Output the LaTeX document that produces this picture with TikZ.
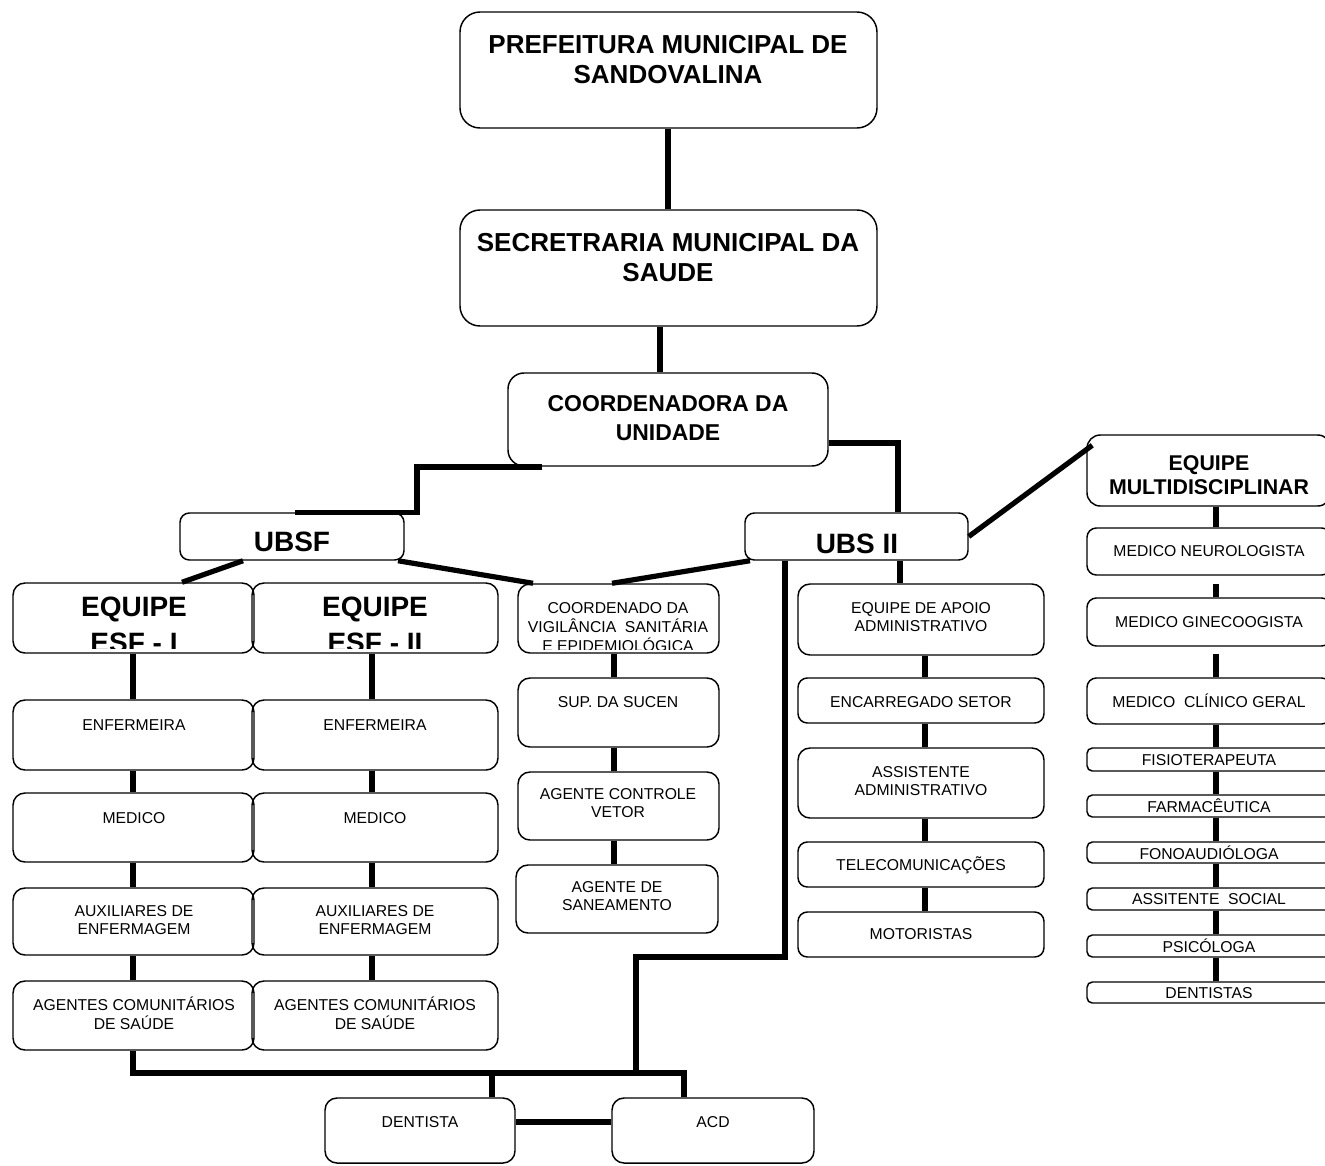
\documentclass[tikz,border=0pt]{standalone}
\usepackage{fontspec}
\setmainfont{Liberation Sans}
\usetikzlibrary{fit,calc}
\begin{document}
\begin{tikzpicture}[x=0.75pt,y=-0.75pt,
  box/.style={draw=black, line width=1.1pt, inner sep=0pt, rounded corners=#1},
  box/.default=8pt,
  conn/.style={line width=3.9pt},
  sm/.style={font=\fontsize{11.8}{14}\selectfont, align=center, inner sep=0pt},
  bg/.style={font=\bfseries\fontsize{19.5}{22.5}\selectfont, align=center, inner sep=0pt},
  cd/.style={font=\bfseries\fontsize{17.2}{21.7}\selectfont, align=center, inner sep=0pt},
  ub/.style={font=\bfseries\fontsize{21}{25}\selectfont, align=center, inner sep=0pt},
  eq/.style={font=\bfseries\fontsize{21}{27}\selectfont, align=center, inner sep=0pt},
  mu/.style={font=\bfseries\fontsize{16}{18.5}\selectfont, align=center, inner sep=0pt}]
\path[fill=white,use as bounding box] (0,0) rectangle (1325,1165);

% ---------- top ----------
\node[box=15pt, fit={(460,12) (877,128)}] (pref) {};
\node[bg] (tpref) at (668,60) {PREFEITURA MUNICIPAL DE\\SANDOVALINA};
\node[box=15pt, fit={(460,210) (877,326)}] (sec) {};
\node[bg] (tsec) at (668,258) {SECRETRARIA MUNICIPAL DA\\SAUDE};
\node[box=12pt, fit={(508,373) (828,466)}] (coord) {};
\node[cd] (tcoord) at (668,418) {COORDENADORA DA\\UNIDADE};

% ---------- units ----------
\node[box=7pt, fit={(180,513) (404,560)}] (ubsf) {};
\node[ub] (tubsf) at (292,542) {UBSF};
\node[box=7pt, fit={(745,513) (968,560)}] (ubs2) {};
\node[ub] (tubs2) at (857,544) {UBS II};
\node[box=10pt, fit={(1087,435) (1331,506)}] (multi) {};
\node[mu] (tmulti) at (1209,475) {EQUIPE\\MULTIDISCIPLINAR};

% ---------- ESF I ----------
\node[box=9pt, fit={(13,583) (254,653)}] (esf1) {};
\begin{scope}
\clip (15,585) rectangle (252,648);
\node[eq] (tesf1) at (134,625) {EQUIPE\\ESF - I};
\end{scope}
\node[box=9pt, fit={(13,700) (254,770)}] (enf1) {};
\node[sm] (tenf1) at (134,725) {ENFERMEIRA};
\node[box=9pt, fit={(13,793) (254,862)}] (med1) {};
\node[sm] (tmed1) at (134,818) {MEDICO};
\node[box=9pt, fit={(13,888) (254,955)}] (aux1) {};
\node[sm] (taux1) at (134,920) {AUXILIARES DE\\ENFERMAGEM};
\node[box=9pt, fit={(13,981) (254,1050)}] (ag1) {};
\node[sm] (tag1) at (134,1013) {AGENTES COMUNITÁRIOS\\DE SAÚDE};

% ---------- ESF II ----------
\node[box=9pt, fit={(252,583) (498,653)}] (esf2) {};
\begin{scope}
\clip (254,585) rectangle (496,648);
\node[eq] (tesf2) at (375,625) {EQUIPE\\ESF - II};
\end{scope}
\node[box=9pt, fit={(252,700) (498,770)}] (enf2) {};
\node[sm] (tenf2) at (375,725) {ENFERMEIRA};
\node[box=9pt, fit={(252,793) (498,862)}] (med2) {};
\node[sm] (tmed2) at (375,818) {MEDICO};
\node[box=9pt, fit={(252,888) (498,955)}] (aux2) {};
\node[sm] (taux2) at (375,920) {AUXILIARES DE\\ENFERMAGEM};
\node[box=9pt, fit={(252,981) (498,1050)}] (ag2) {};
\node[sm] (tag2) at (375,1013) {AGENTES COMUNITÁRIOS\\DE SAÚDE};

% ---------- Vigilancia ----------
\node[box=9pt, fit={(518,584) (719,653)}] (vig) {};
\begin{scope}
\clip (520,586) rectangle (717,649);
\node[sm] (tvig) at (618,627) {COORDENADO DA\\VIGILÂNCIA\ \ SANITÁRIA\\E EPIDEMIOLÓGICA};
\end{scope}
\node[box=9pt, fit={(518,678) (719,747)}] (sucen) {};
\node[sm] (tsucen) at (618,702) {SUP. DA SUCEN};
\node[box=9pt, fit={(518,772) (719,840)}] (vetor) {};
\node[sm] (tvetor) at (618,803) {AGENTE CONTROLE\\VETOR};
\node[box=9pt, fit={(516,865) (718,933)}] (saneam) {};
\node[sm] (tsaneam) at (617,896) {AGENTE DE\\SANEAMENTO};

% ---------- Apoio ----------
\node[box=9pt, fit={(798,584) (1044,655)}] (apoio) {};
\node[sm] (tapoio) at (921,617) {EQUIPE DE APOIO\\ADMINISTRATIVO};
\node[box=7pt, fit={(798,678) (1044,723)}] (encar) {};
\node[sm] (tencar) at (921,702) {ENCARREGADO SETOR};
\node[box=9pt, fit={(798,748) (1044,818)}] (assist) {};
\node[sm] (tassist) at (921,781) {ASSISTENTE\\ADMINISTRATIVO};
\node[box=7pt, fit={(798,842) (1044,887)}] (tele) {};
\node[sm] (ttele) at (921,865) {TELECOMUNICAÇÕES};
\node[box=7pt, fit={(798,912) (1044,957)}] (motor) {};
\node[sm] (tmotor) at (921,934) {MOTORISTAS};

% ---------- Multidisciplinar ----------
\node[box=7pt, fit={(1087,528) (1331,575)}] (neuro) {};
\node[sm] (tneuro) at (1209,551) {MEDICO NEUROLOGISTA};
\node[box=7pt, fit={(1087,598) (1331,646)}] (gine) {};
\node[sm] (tgine) at (1209,622) {MEDICO GINECOOGISTA};
\node[box=7pt, fit={(1087,678) (1331,724)}] (clin) {};
\node[sm] (tclin) at (1209,701) {MEDICO\ \ CLÍNICO GERAL};
\node[box=4pt, fit={(1087,748) (1331,771)}] (fisio) {};
\node[sm] (tfisio) at (1209,760) {FISIOTERAPEUTA};
\node[box=4pt, fit={(1087,795) (1331,817)}] (farm) {};
\node[sm] (tfarm) at (1209,806) {FARMACÊUTICA};
\node[box=4pt, fit={(1087,842) (1331,863)}] (fono) {};
\node[sm] (tfono) at (1209,853) {FONOAUDIÓLOGA};
\node[box=4pt, fit={(1087,888) (1331,910)}] (assoc) {};
\node[sm] (tassoc) at (1209,899) {ASSITENTE\ \ SOCIAL};
\node[box=4pt, fit={(1087,935) (1331,957)}] (psic) {};
\node[sm] (tpsic) at (1209,946) {PSICÓLOGA};
\node[box=4pt, fit={(1087,982) (1331,1003)}] (dents) {};
\node[sm] (tdents) at (1209,993) {DENTISTAS};

% ---------- bottom ----------
\node[box=9pt, fit={(325,1098) (515,1163)}] (dentista) {};
\node[sm] (tdentista) at (420,1122) {DENTISTA};
\node[box=9pt, fit={(612,1098) (814,1163)}] (acd) {};
\node[sm] (tacd) at (713,1122) {ACD};

% ---------- helper coordinates ----------
\coordinate (vA) at (668,0);
\coordinate (vB) at (660,0);
\coordinate (vE1) at (133,0);
\coordinate (vE2) at (372,0);
\coordinate (vV) at (614,0);
\coordinate (vP) at (925,0);
\coordinate (vU) at (900,0);
\coordinate (vM) at (1216,0);
\coordinate (vD) at (492,0);
\coordinate (k1) at (542,467);
\coordinate (k2) at (417,467);
\coordinate (k3) at (295,0);
\coordinate (k4) at (898,443);
\coordinate (k5) at (243,0);
\coordinate (k6) at (182,0);
\coordinate (k7) at (398,0);
\coordinate (k8) at (533,0);
\coordinate (k9) at (750,0);
\coordinate (k10) at (612,0);
\coordinate (k12) at (785,0);
\coordinate (k13) at (785,957);
\coordinate (k14) at (636,957);
\coordinate (j1) at (636,1073);
\coordinate (jL) at (133,1073);
\coordinate (jR) at (684,1073);
\coordinate (k15) at (0,1122);

% ---------- connectors ----------
\draw[conn] (pref.south -| vA) -- (sec.north -| vA);
\draw[conn] (sec.south -| vB) -- (coord.north -| vB);
\draw[conn] (k1) -- (k2) -- (ubsf.north -| k2) -- (ubsf.north -| k3);
\draw[conn] (coord.east |- k4) -- (k4) -- (ubs2.north -| k4);
\draw[conn] (ubsf.south -| k5) -- (esf1.north -| k6);
\draw[conn] (ubsf.south -| k7) -- (vig.north -| k8);
\draw[conn] (ubs2.south -| k9) -- (vig.north -| k10);
\draw[conn] (ubs2.east) -- ([shift={(6,11)}]multi.north west);
\draw[conn] (ubs2.south -| vU) -- (apoio.north -| vU);
\draw[conn] (ubs2.south -| k12) -- (k13) -- (k14) -- (j1);

\draw[conn] (esf1.south -| vE1) -- (enf1.north -| vE1);
\draw[conn] (enf1.south -| vE1) -- (med1.north -| vE1);
\draw[conn] (med1.south -| vE1) -- (aux1.north -| vE1);
\draw[conn] (aux1.south -| vE1) -- (ag1.north -| vE1);

\draw[conn] (esf2.south -| vE2) -- (enf2.north -| vE2);
\draw[conn] (enf2.south -| vE2) -- (med2.north -| vE2);
\draw[conn] (med2.south -| vE2) -- (aux2.north -| vE2);
\draw[conn] (aux2.south -| vE2) -- (ag2.north -| vE2);

\draw[conn] (vig.south -| vV) -- (sucen.north -| vV);
\draw[conn] (sucen.south -| vV) -- (vetor.north -| vV);
\draw[conn] (vetor.south -| vV) -- (saneam.north -| vV);

\draw[conn] (apoio.south -| vP) -- (encar.north -| vP);
\draw[conn] (encar.south -| vP) -- (assist.north -| vP);
\draw[conn] (assist.south -| vP) -- (tele.north -| vP);
\draw[conn] (tele.south -| vP) -- (motor.north -| vP);

\draw[conn] (multi.south -| vM) -- (neuro.north -| vM);
\draw[conn] ($(neuro.south -| vM)+(0,8)$) -- (gine.north -| vM);
\draw[conn] ($(gine.south -| vM)+(0,7)$) -- (clin.north -| vM);
\draw[conn] (clin.south -| vM) -- (fisio.north -| vM);
\draw[conn] (fisio.south -| vM) -- (farm.north -| vM);
\draw[conn] (farm.south -| vM) -- (fono.north -| vM);
\draw[conn] (fono.south -| vM) -- (assoc.north -| vM);
\draw[conn] (assoc.south -| vM) -- (psic.north -| vM);
\draw[conn] (psic.south -| vM) -- (dents.north -| vM);

\draw[conn] (ag1.south -| vE1) -- (jL) -- (jR) -- (acd.north -| jR);
\draw[conn] (vD |- jL) -- (dentista.north -| vD);
\draw[conn] (dentista.east |- k15) -- (acd.west |- k15);
\end{tikzpicture}
\end{document}
